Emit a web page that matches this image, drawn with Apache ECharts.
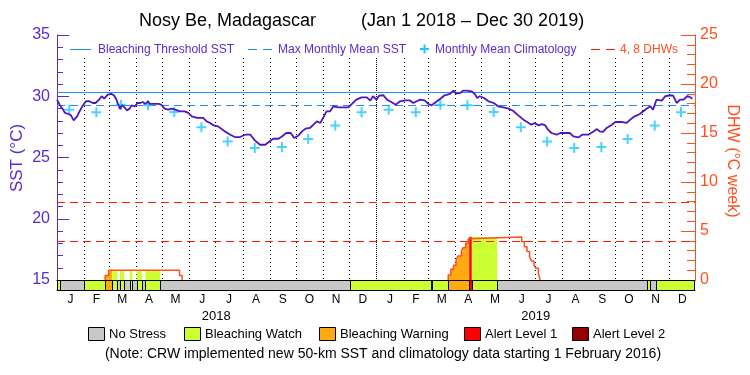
<!DOCTYPE html>
<html>
<head>
<meta charset="utf-8">
<title>Nosy Be, Madagascar</title>
<script src="https://cdn.jsdelivr.net/npm/echarts@6.0.0/dist/echarts.min.js"></script>
<style>
  html, body { margin: 0; padding: 0; background: #fff; }
  #chart { width: 750px; height: 375px; }
</style>
</head>
<body>
<div id="chart"></div>
<script>
// day 0 = 1 Jan 2018
const sstDays = [0, 2, 3, 7, 9, 13, 16, 19, 23, 26, 29, 33, 37, 41, 44, 48, 51, 54, 58, 62,
  65, 68, 70, 72, 74, 77, 80, 83, 85, 89, 92, 95, 98, 101, 104, 106, 110, 116, 119, 123,
  127, 131, 135, 141, 146, 150, 154, 160, 167, 171, 175, 179, 184, 186, 192, 198, 203, 209, 215, 221,
  226, 232, 238, 242, 247, 253, 257, 262, 267, 271, 276, 280, 284, 289, 293, 297, 301, 304, 308, 312,
  316, 321, 327, 333, 337, 342, 348, 354, 358, 361, 365, 368, 373, 377, 382, 387, 392, 398, 403, 407,
  411, 415, 420, 424, 428, 433, 438, 443, 449, 453, 456, 461, 464, 468, 474, 478, 480, 483, 488, 493,
  499, 504, 510, 516, 521, 527, 533, 539, 542, 546, 550, 554, 558, 561, 565, 571, 575, 586, 590, 596,
  600, 607, 613, 617, 620, 624, 628, 634, 638, 645, 651, 655, 660, 666, 672, 678, 681, 685, 691, 695,
  700, 704, 708, 712, 716, 720, 723, 726]
const sstVals = [29.72, 29.64, 29.31, 28.90, 28.64, 28.55, 28.44, 28.03, 28.36, 28.80, 29.18, 29.59, 29.59, 29.45, 29.45, 29.72, 30.00, 29.80, 30.13, 30.19,
  30.08, 29.72, 29.31, 28.96, 29.26, 29.10, 28.85, 28.99, 29.26, 29.18, 29.45, 29.45, 29.53, 29.37, 29.59, 29.37, 29.37, 29.37, 29.31, 28.99,
  28.90, 28.99, 28.90, 28.77, 28.77, 28.64, 28.36, 28.23, 28.23, 27.95, 27.82, 27.62, 27.54, 27.46, 27.13, 26.86, 26.67, 26.67, 26.86, 26.86,
  26.40, 26.04, 26.04, 26.26, 26.53, 26.53, 26.72, 27.00, 27.00, 26.59, 26.80, 27.13, 27.35, 27.41, 27.68, 27.95, 27.82, 28.23, 28.77, 28.77,
  29.18, 29.10, 29.10, 29.10, 29.37, 29.72, 29.91, 29.91, 29.64, 30.00, 29.72, 30.05, 30.08, 29.72, 29.53, 29.31, 29.59, 29.67, 29.67, 29.45,
  29.59, 29.72, 29.67, 29.39, 29.26, 29.53, 29.80, 30.08, 30.19, 30.46, 30.21, 30.27, 30.46, 30.46, 30.40, 30.13, 29.86, 30.00, 29.86, 29.59,
  29.45, 29.18, 29.10, 28.99, 28.82, 28.44, 28.09, 27.82, 27.68, 27.82, 27.62, 27.73, 27.62, 27.27, 27.00, 26.86, 27.00, 27.00, 26.72, 26.64,
  26.86, 26.86, 27.13, 27.32, 27.13, 27.10, 27.41, 27.68, 27.90, 27.90, 27.82, 28.09, 28.36, 28.55, 28.90, 29.18, 28.90, 29.72, 29.64, 30.00,
  30.08, 30.05, 29.45, 29.72, 29.72, 30.00, 29.95, 29.80]

// monthly mean climatology, Jan..Dec
const climVals = [28.90, 28.69, 29.30, 29.27, 28.72, 27.46, 26.31, 25.77, 25.85, 26.51, 27.62, 28.69]
const mmm = 29.3
const threshold = 30.3

// degree heating weeks, value holds from that day to the next one
const dhwDays = [55, 59, 140, 143, 447, 450, 453, 456, 458, 462, 464, 467, 470, 471, 531, 534, 537, 540, 542, 545, 547, 550, 552]
const dhwVals = [0.45, 1.0, 0.45, 0, 0.5, 1.1, 1.5, 2.0, 2.45, 2.9, 3.3, 3.75, 4.2, 4.4, 3.9, 3.4, 2.9, 2.4, 1.95, 1.5, 1.2, 0.7, 0]
const dhwLevels = [4, 8]

// stress level: 0 none, 1 watch, 2 warning, 3 alert 1, 4 alert 2
const stressStart = [0, 3, 31, 55, 63, 69, 72, 77, 83, 86, 91, 97, 101, 118, 335, 427, 429, 447, 471, 474, 503, 674, 678, 684]
const stressEnd = [3, 31, 55, 63, 69, 72, 77, 83, 86, 91, 97, 101, 118, 335, 427, 429, 447, 471, 474, 503, 674, 678, 684, 728]
const stressLevel = [1, 0, 1, 2, 1, 0, 1, 0, 1, 0, 1, 0, 1, 0, 1, 0, 1, 2, 3, 1, 0, 1, 0, 1]

const monthLetters = ['J', 'F', 'M', 'A', 'M', 'J', 'J', 'A', 'S', 'O', 'N', 'D']
const yearLabels = ['2018', '2019']
const stressNames = ['No Stress', 'Bleaching Watch', 'Bleaching Warning', 'Alert Level 1', 'Alert Level 2']

const stressColors = ['#c8c8c8', '#ccff33', '#ffaa11', '#ff0000', '#960000']
const purple = '#5a2ad0'
const sstColor = '#5014c0'
const orange = '#ff4f1f'
const red = '#ff1a00'
const blue = '#1e8fff'
const cyan = '#1ec8ff'
const font = 'Liberation Sans'
const xMax = 729

const t0 = Date.UTC(2018, 0, 1)
function dayOf (y, m, d) {
  return Math.round((Date.UTC(y, m, d) - t0) / 86400000)
}

let monthStarts = []
let monthMids = []
let climPoints = []
for (let i = 0; i < 24; i++) {
  let y = 2018 + Math.floor(i / 12)
  let m = i % 12
  let s = dayOf(y, m, 1)
  let e = dayOf(y, m + 1, 1)
  monthStarts.push(s)
  monthMids.push((s + e) / 2)
  climPoints.push([dayOf(y, m, 15), climVals[m]])
}
let yearMids = [dayOf(2018, 6, 2), dayOf(2019, 6, 2)]

function nearest (arr, v) {
  let best = 0
  arr.forEach(function (a, i) { if (Math.abs(a - v) < Math.abs(arr[best] - v)) best = i })
  return best
}

function dhwAt (d) {
  let v = 0
  for (let i = 0; i < dhwDays.length; i++) {
    if (dhwDays[i] <= d) v = dhwVals[i]
  }
  return v
}

// split DHW steps into episodes for the line
let dhwEpisodes = []
let cur = null
dhwDays.forEach(function (d, i) {
  if (!cur) cur = [[d, 0]]
  cur.push([d, dhwVals[i]])
  if (dhwVals[i] === 0) {
    dhwEpisodes.push(cur)
    cur = null
  }
})

let stressData = stressStart.map(function (s, i) { return [s, stressEnd[i], stressLevel[i]] })
let fillData = stressData.filter(function (r) { return r[2] > 0 })

// dashed horizontal line built from filled pieces
function dashLine (x0, x1, y, color, dash) {
  let parts = []
  for (let x = x0; x < x1; x += dash[0] + dash[1]) {
    parts.push({ type: 'rect', shape: { x: x, y: y, width: Math.min(dash[0], x1 - x), height: 1 }, style: { fill: color } })
  }
  return { type: 'group', children: parts }
}

// full width dashed line renderer
function refLine (color) {
  return function (params, api) {
    let v = api.value(1)
    let a = api.coord([0, v])
    let b = api.coord([xMax, v])
    return dashLine(Math.round(a[0]), Math.round(b[0]), Math.round(a[1]), color, [8, 5])
  }
}

function txt (x, y, text, size, color, align, rot) {
  return {
    type: 'text',
    x: x,
    y: y,
    rotation: rot || 0,
    style: { text: text, font: size + 'px "' + font + '"', fill: color, align: align, verticalAlign: 'middle', textAlign: align, textVerticalAlign: 'middle' }
  }
}

let myChart = echarts.init(document.getElementById('chart'))

let dhwSeries = dhwEpisodes.map(function (ep) {
  return {
    type: 'line',
    xAxisIndex: 0,
    yAxisIndex: 2,
    data: ep,
    step: 'end',
    showSymbol: false,
    lineStyle: { color: orange, width: 1.5 },
    z: 4
  }
})

// legend at the bottom
let legendEls = []
let boxX = [88, 184, 319, 464, 572]
stressNames.forEach(function (name, i) {
  legendEls.push({
    type: 'rect',
    shape: { x: boxX[i] + 0.5, y: 327.5, width: 16, height: 13 },
    style: { fill: stressColors[i], stroke: '#000', lineWidth: 1 }
  })
  legendEls.push(txt(boxX[i] + 21, 334.5, name, 13, '#000', 'left'))
})

myChart.setOption({
  animation: false,
  backgroundColor: '#fff',
  textStyle: { fontFamily: font },
  grid: [
    { left: 57, right: 55, top: 35, height: 245, containLabel: false, outerBoundsMode: 'none' },
    { left: 57, right: 55, top: 280, height: 10, containLabel: false, outerBoundsMode: 'none' }
  ],
  xAxis: [
    {
      gridIndex: 0, type: 'value', min: 0, max: xMax, position: 'top',
      axisLine: { show: true, lineStyle: { color: '#000', width: 1 } },
      axisTick: { show: false }, axisLabel: { show: false }, splitLine: { show: false }
    },
    {
      gridIndex: 1, type: 'value', min: 0, max: xMax, position: 'bottom',
      axisLine: { show: true, lineStyle: { color: '#000', width: 1 } },
      axisTick: { show: false }, splitLine: { show: false },
      axisLabel: {
        customValues: monthMids,
        formatter: function (v) { return monthLetters[nearest(monthMids, v) % 12] },
        color: '#000', fontSize: 12, margin: 4, fontFamily: font
      }
    },
    {
      gridIndex: 1, type: 'value', min: 0, max: xMax, position: 'bottom',
      axisLine: { show: false }, axisTick: { show: false }, splitLine: { show: false },
      axisLabel: {
        customValues: yearMids,
        formatter: function (v) { return yearLabels[nearest(yearMids, v)] },
        color: '#000', fontSize: 13, margin: 20, fontFamily: font
      }
    }
  ],
  yAxis: [
    {
      gridIndex: 0, type: 'value', min: 15, max: 35, interval: 5, position: 'left',
      axisLine: { show: true, lineStyle: { color: purple, width: 1 } },
      axisTick: { show: true, inside: true, length: 12, lineStyle: { color: purple } },
      axisLabel: { color: purple, fontSize: 16, margin: 7, fontFamily: font },
      splitLine: { show: false }
    },
    {
      gridIndex: 0, type: 'value', min: 15, max: 35, interval: 1, position: 'left',
      axisLine: { show: false },
      axisTick: { show: true, inside: true, length: 6, lineStyle: { color: purple } },
      axisLabel: { show: false }, splitLine: { show: false }
    },
    {
      gridIndex: 0, type: 'value', min: 0, max: 25, interval: 5, position: 'right',
      axisLine: { show: true, lineStyle: { color: orange, width: 1 } },
      axisTick: { show: true, inside: true, length: 14, lineStyle: { color: orange } },
      axisLabel: { color: orange, fontSize: 16, margin: 5, fontFamily: font },
      splitLine: { show: false }
    },
    {
      gridIndex: 0, type: 'value', min: 0, max: 25, interval: 1, position: 'right',
      axisLine: { show: false },
      axisTick: { show: true, inside: true, length: 8, lineStyle: { color: orange } },
      axisLabel: { show: false }, splitLine: { show: false }
    },
    {
      gridIndex: 1, type: 'value', min: 0, max: 1, position: 'right',
      axisLine: { show: true, lineStyle: { color: orange, width: 1 } },
      axisTick: { show: false }, axisLabel: { show: false }, splitLine: { show: false }
    }
  ],
  graphic: [
    txt(139, 21, 'Nosy Be, Madagascar', 18, '#000', 'left'),
    txt(361, 21, '(Jan 1 2018 \u2013 Dec 30 2019)', 18, '#000', 'left'),
    txt(17, 158, 'SST (\u00b0C)', 17, purple, 'center', Math.PI / 2),
    txt(732, 161, 'DHW (\u00b0C week)', 16, orange, 'center', -Math.PI / 2),
    // legend inside the plot
    { type: 'line', shape: { x1: 70, y1: 49.5, x2: 91, y2: 49.5 }, style: { stroke: blue, lineWidth: 1 } },
    txt(98, 49.5, 'Bleaching Threshold SST', 12, purple, 'left'),
    dashLine(248, 272, 49, blue, [9, 6]),
    txt(278, 49.5, 'Max Monthly Mean SST', 12, purple, 'left'),
    { type: 'rect', shape: { x: 420, y: 48, width: 9, height: 2 }, style: { fill: cyan } },
    { type: 'rect', shape: { x: 423.5, y: 44.5, width: 2, height: 9 }, style: { fill: cyan } },
    txt(435, 49.5, 'Monthly Mean Climatology', 12, purple, 'left'),
    dashLine(591, 615, 49, red, [9, 6]),
    txt(620, 49.5, '4, 8 DHWs', 12, orange, 'left'),
    txt(383, 354, '(Note: CRW implemented new 50-km SST and climatology data starting 1 February 2016)', 14, '#000', 'center')
  ].concat(legendEls),
  series: [
    {
      // dotted month lines
      type: 'custom',
      xAxisIndex: 0,
      yAxisIndex: 0,
      z: 1,
      silent: true,
      data: monthStarts.filter(function (d) { return d > 0 }).map(function (d) { return [d, 15] }),
      renderItem: function (params, api) {
        let d = api.value(0)
        let p0 = api.coord([d, 33.1])
        let p1 = api.coord([d, 15])
        let x = Math.round(p0[0])
        let step = d === 365 ? 2 : 4
        let dots = []
        for (let y = Math.round(p0[1]); y < p1[1]; y += step) {
          dots.push({ type: 'rect', shape: { x: x, y: y, width: 1, height: 1 }, style: { fill: '#000' } })
        }
        return { type: 'group', children: dots }
      }
    },
    {
      // DHW area filled with stress colour
      type: 'custom',
      xAxisIndex: 0,
      yAxisIndex: 2,
      z: 2,
      silent: true,
      data: fillData,
      encode: { x: [0, 1], y: 2 },
      renderItem: function (params, api) {
        let s = api.value(0)
        let e = api.value(1)
        let cuts = [s].concat(dhwDays.filter(function (d) { return d > s && d < e }), [e])
        let pts = [api.coord([s, 0])]
        for (let i = 0; i < cuts.length - 1; i++) {
          let v = dhwAt(cuts[i])
          pts.push(api.coord([cuts[i], v]), api.coord([cuts[i + 1], v]))
        }
        pts.push(api.coord([e, 0]))
        return { type: 'polygon', shape: { points: pts }, style: { fill: stressColors[api.value(2)] } }
      }
    },
    {
      // 4 and 8 DHW lines
      type: 'custom',
      xAxisIndex: 0,
      yAxisIndex: 2,
      z: 3,
      silent: true,
      data: dhwLevels.map(function (v) { return [0, v] }),
      renderItem: refLine(red)
    },
    {
      // stress bar
      type: 'custom',
      xAxisIndex: 1,
      yAxisIndex: 4,
      z: 3,
      silent: true,
      data: stressData,
      encode: { x: [0, 1], y: 2 },
      renderItem: function (params, api) {
        let a = api.coord([api.value(0), 1])
        let b = api.coord([api.value(1), 0])
        let x0 = Math.round(a[0]) + 0.5
        let x1 = Math.round(b[0]) + 0.5
        return {
          type: 'rect',
          shape: { x: x0, y: Math.round(a[1]) + 0.5, width: x1 - x0, height: Math.round(b[1] - a[1]) },
          style: { fill: stressColors[api.value(2)], stroke: '#000', lineWidth: 1 }
        }
      }
    },
    {
      // max monthly mean
      type: 'custom',
      xAxisIndex: 0,
      yAxisIndex: 0,
      z: 4,
      silent: true,
      data: [[0, mmm]],
      renderItem: refLine(blue)
    }
  ].concat(dhwSeries, [
    {
      type: 'scatter',
      xAxisIndex: 0,
      yAxisIndex: 0,
      z: 5,
      data: climPoints,
      symbol: 'path://M4,0h2v10h-2z M0,4h10v2h-10z',
      symbolSize: 10,
      itemStyle: { color: cyan }
    },
    {
      type: 'line',
      xAxisIndex: 0,
      yAxisIndex: 0,
      z: 6,
      data: sstDays.map(function (d, i) { return [d, sstVals[i]] }),
      showSymbol: false,
      lineStyle: { color: sstColor, width: 1.8 },
      markLine: {
        silent: true,
        symbol: ['none', 'none'],
        label: { show: false },
        lineStyle: { color: blue, type: 'solid', width: 1 },
        data: [{ yAxis: threshold }]
      }
    }
  ])
})
</script>
</body>
</html>
